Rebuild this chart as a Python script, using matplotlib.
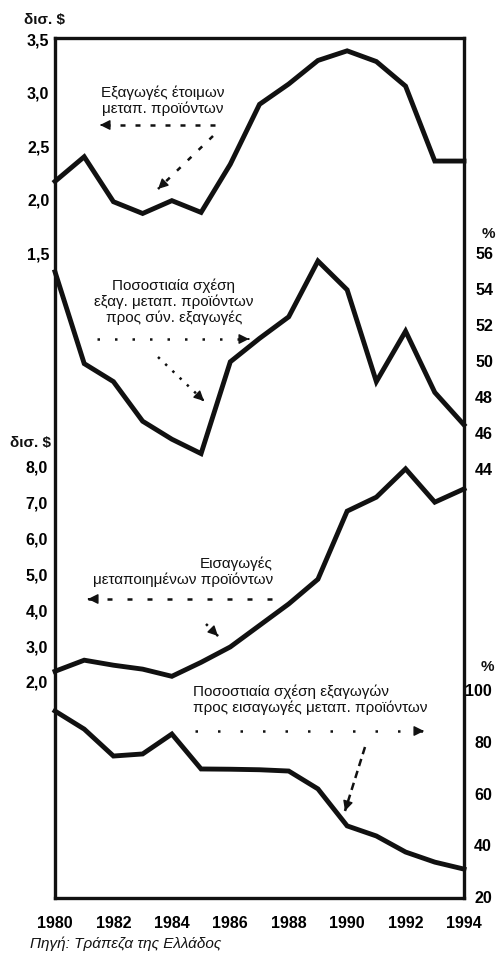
import matplotlib.pyplot as plt
from matplotlib.lines import Line2D
from matplotlib.patches import FancyArrowPatch

plt.rcParams['font.family'] = ['Liberation Sans', 'DejaVu Sans']

years = list(range(1980, 1995))
# exports of finished manufactured goods, bn $
exp_manuf = [2.16, 2.39, 1.97, 1.86, 1.98, 1.87, 2.32, 2.88, 3.07, 3.29, 3.38, 3.28, 3.05, 2.35, 2.35]
# share of manufactured exports in total exports, %
exp_share = [54.9, 49.8, 48.8, 46.6, 45.6, 44.8, 49.9, 51.2, 52.4, 55.5, 53.9, 48.8, 51.6, 48.2, 46.4]
# imports of manufactured goods, bn $
imp_manuf = [2.27, 2.58, 2.44, 2.33, 2.13, 2.52, 2.95, 3.55, 4.15, 4.84, 6.74, 7.13, 7.92, 6.99, 7.36]
# exports / imports of manufactured goods, %
cover = [91.5, 84.5, 74.1, 74.9, 82.6, 69.1, 69.0, 68.8, 68.3, 61.4, 47.1, 43.2, 37.0, 33.1, 30.4]

xticks = [1980, 1982, 1984, 1986, 1988, 1990, 1992, 1994]
ticks1 = [1.5, 2.0, 2.5, 3.0, 3.5]
labels1 = ['1,5', '2,0', '2,5', '3,0', '3,5']
ticks2 = [44, 46, 48, 50, 52, 54, 56]
ticks3 = [2, 3, 4, 5, 6, 7, 8]
labels3 = ['2,0', '3,0', '4,0', '5,0', '6,0', '7,0', '8,0']
ticks4 = [20, 40, 60, 80, 100]

W, H = 497, 954
fig = plt.figure(figsize=(W / 100, H / 100), dpi=100)
L, R, T, B = 55, 464, 39, 899
rect = [L / W, 1 - B / H, (R - L) / W, (B - T) / H]

ink = '#111111'
tickfont = dict(fontsize=11.5, fontweight='bold')

ax0 = fig.add_axes(rect)
ax0.set_xlim(1980, 1994)
ax0.set_yticks([])
ax0.set_xticks(xticks)
ax0.set_xticklabels([str(y) for y in xticks], **tickfont)
ax0.tick_params(axis='x', length=0, pad=12)
for s in ax0.spines.values():
    s.set_linewidth(2.4)
    s.set_color(ink)


def overlay(side, ylim, ticks, labels, pad, ha=None):
    ax = fig.add_axes(rect, facecolor='none')
    ax.set_xlim(1980, 1994)
    ax.set_ylim(*ylim)
    ax.set_xticks([])
    for s in ax.spines.values():
        s.set_visible(False)
    ax.yaxis.set_ticks_position(side)
    ax.set_yticks(ticks)
    ax.set_yticklabels(labels, **tickfont)
    if ha:
        for t in ax.get_yticklabels():
            t.set_ha(ha)
    ax.tick_params(axis='y', length=0, pad=pad)
    return ax


ax1 = overlay('left', (3.5 - 860 / 107, 3.5), ticks1, labels1, 4)
ax2 = overlay('right', (67.89 - 860 / 18, 67.89), ticks2, [str(t) for t in ticks2], 8)
ax3 = overlay('left', (19.945 - 860 / 35.83, 19.945), ticks3, labels3, 5)
ax4 = overlay('right', (351.6 - 860 / 2.5875, 351.6), ticks4, [str(t) for t in ticks4], 20, ha='right')

lw = 3.5
ax1.plot(years, exp_manuf, color=ink, lw=lw, solid_joinstyle='miter', clip_on=False)
ax2.plot(years, exp_share, color=ink, lw=lw, solid_joinstyle='miter', clip_on=False)
ax3.plot(years, imp_manuf, color=ink, lw=lw, solid_joinstyle='miter', clip_on=False)
ax4.plot(years, cover, color=ink, lw=lw, solid_joinstyle='miter', clip_on=False)


def px(x, y):
    return x / W, 1 - y / H


def txt(x, y, s, **kw):
    fx, fy = px(x, y)
    fig.text(fx, fy, s, va='center', color=ink, **kw)


# unit labels
txt(44, 20, 'δισ. $', ha='center', fontsize=11, fontweight='bold')
txt(30, 443, 'δισ. $', ha='center', fontsize=11, fontweight='bold')
txt(488, 234, '%', ha='center', fontsize=11, fontweight='bold')
txt(487, 667, '%', ha='center', fontsize=11, fontweight='bold')


def arrow(x0, y0, x1, y1, dash=(1, 4)):
    a, b = px(x0, y0)
    c, d = px(x1, y1)
    fig.add_artist(Line2D([a, c], [b, d], transform=fig.transFigure, color=ink,
                          lw=1.8, linestyle=(0, dash)))
    k = 0.02
    fig.add_artist(FancyArrowPatch(
        (c - (c - a) * k, d - (d - b) * k), (c, d), transform=fig.transFigure,
        arrowstyle='-|>,head_length=6,head_width=3', color=ink, lw=1))


note = dict(fontsize=11, linespacing=1.15)
txt(163, 101, 'Εξαγωγές έτοιμων\nμεταπ. προϊόντων', ha='center', **note)
arrow(215, 126, 100, 126, (2, 4))
arrow(213, 137, 158, 190, (2, 4))

txt(174, 302, 'Ποσοστιαία σχέση\nεξαγ. μεταπ. προϊόντων\nπρος σύν. εξαγωγές', ha='center', **note)
arrow(97, 340, 249, 340, (1, 6))
arrow(158, 358, 204, 402, (1, 3))

txt(273, 572, 'Εισαγωγές\nμεταποιημένων προϊόντων', ha='right', multialignment='right', **note)
arrow(272, 600, 88, 600, (2, 6))
arrow(206, 625, 218, 637, (1, 2))

txt(193, 700, 'Ποσοστιαία σχέση εξαγωγών\nπρος εισαγωγές μεταπ. προϊόντων', ha='left', **note)
arrow(195, 732, 424, 732, (1, 8))
arrow(365, 748, 345, 812, (3, 2))

txt(30, 944, 'Πηγή: Τράπεζα της Ελλάδος', ha='left', fontsize=11, fontstyle='italic')

fig.savefig('out.png', dpi=100)
